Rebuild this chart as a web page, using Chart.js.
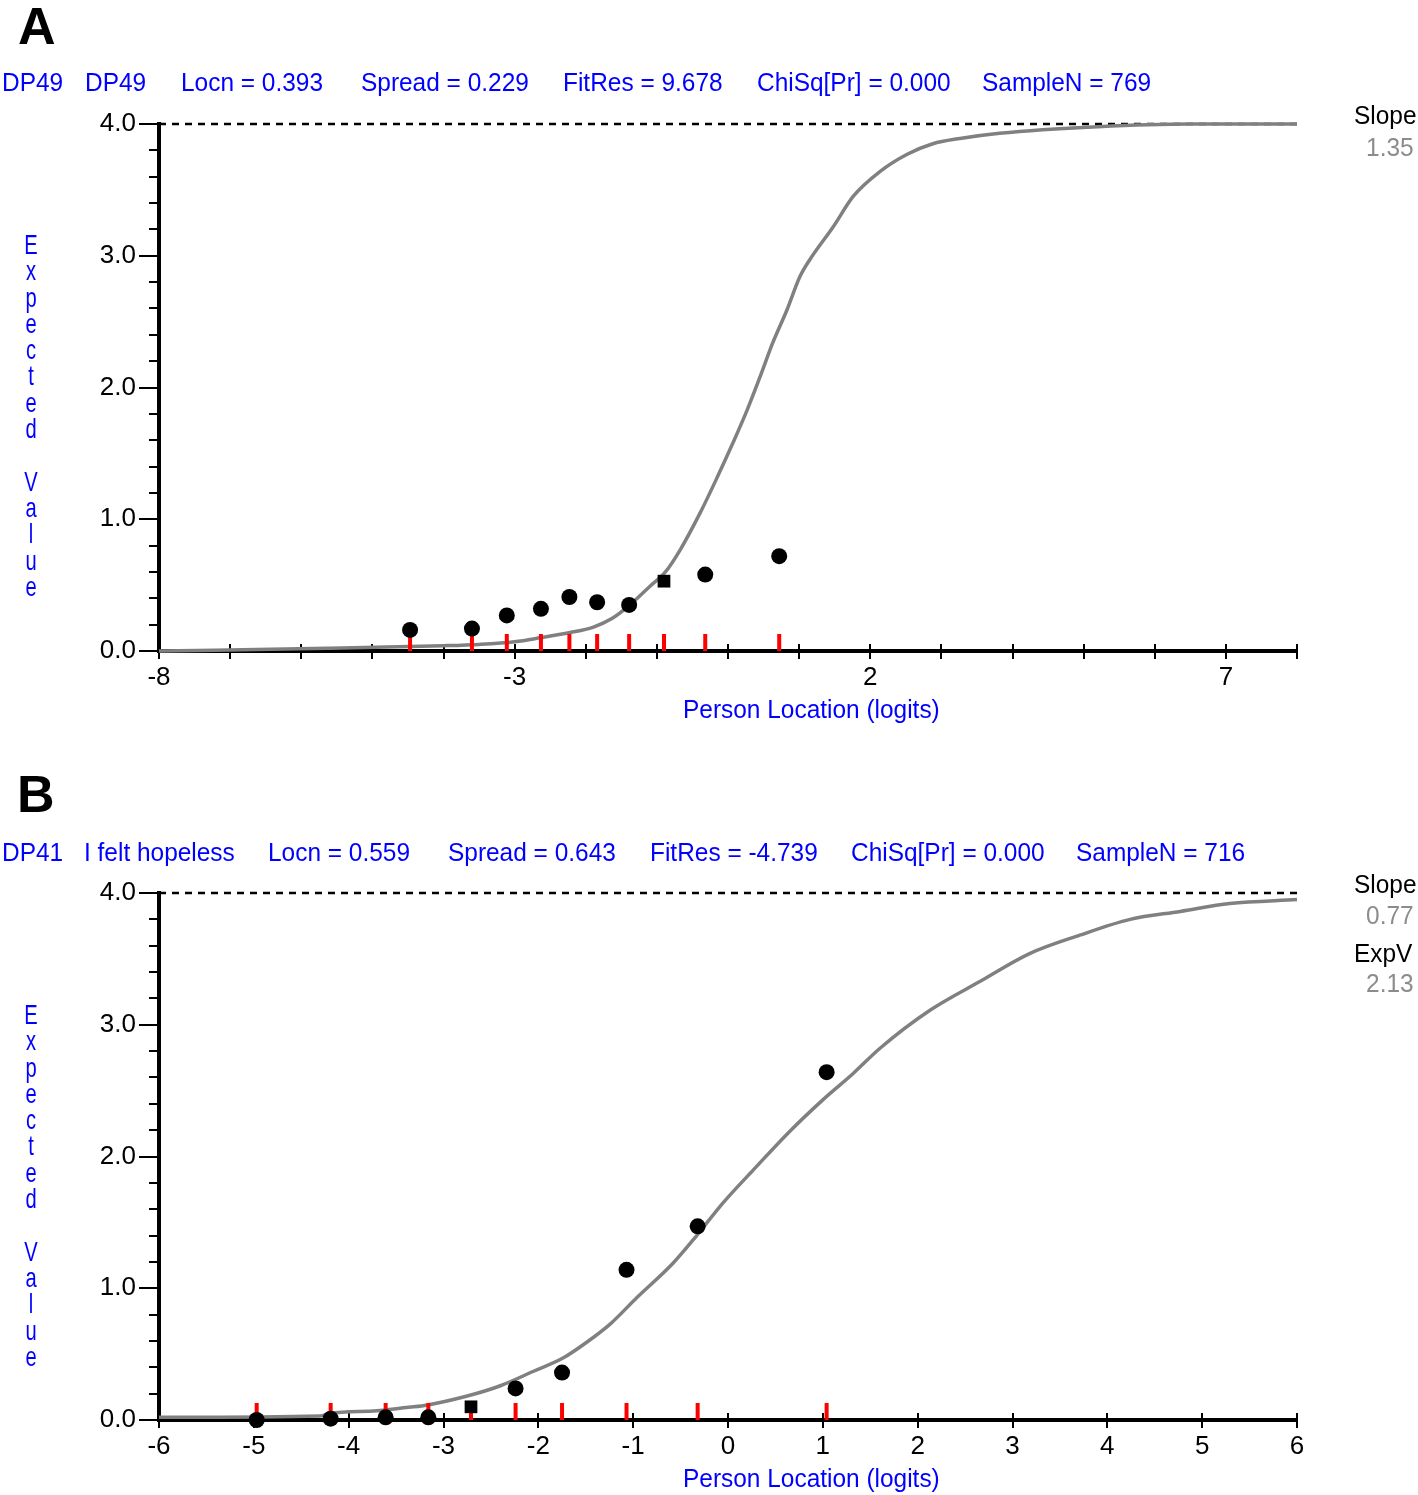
<!DOCTYPE html>
<html>
<head>
<meta charset="utf-8">
<script src="https://cdn.jsdelivr.net/npm/chart.js@4.4.1/dist/chart.umd.min.js"></script>
<style>
  body { margin: 0; background: #fff; }
  #wrap { position: relative; width: 1418px; height: 1495px; overflow: hidden; font-family: "Liberation Sans", Arial, sans-serif; }
  canvas { position: absolute; left: 0; }
  .t { position: absolute; white-space: nowrap; font-size: 26px; line-height: 26px; transform: scaleX(0.94); transform-origin: left top; z-index: 2; }
  .blue { color: #0000ff; }
  .panel { position: absolute; font-weight: bold; font-size: 52px; line-height: 52px; color: #000; z-index: 2; }
  .vert { position: absolute; width: 40px; text-align: center; color: #0000ff; font-size: 28px; line-height: 26.3px; transform: scaleX(0.72); z-index: 2; }
</style>
</head>
<body>
<div id="wrap">
  <canvas id="chartA" width="1418" height="740" style="top:0"></canvas>
  <canvas id="chartB" width="1418" height="735" style="top:760px"></canvas>
</div>
<script>
// ---- panel A : DP49 ----
const aHeader = ['DP49', 'DP49', 'Locn = 0.393', 'Spread = 0.229', 'FitRes = 9.678', 'ChiSq[Pr] = 0.000', 'SampleN = 769'];
const aSlope = '1.35';
const aTickLabels = [-8, -3, 2, 7];
// observed class means (person location, mean score)
const aClassLoc = [-4.47, -3.60, -3.11, -2.63, -2.23, -1.84, -1.39, -0.90, -0.32, 0.72];
const aClassObs = [0.16, 0.17, 0.27, 0.32, 0.41, 0.37, 0.35, 0.53, 0.58, 0.72];
const aClassStyle = ['circle','circle','circle','circle','circle','circle','circle','rect','circle','circle'];
// expected value curve
const aCurveX = [-8, -5.64, -4.0, -3.5, -3.0, -2.64, -2.22, -1.9, -1.62, -1.38, -1.1, -0.88, -0.67, -0.39, -0.15, 0.07, 0.27, 0.45, 0.63, 0.83, 1.01, 1.15, 1.48, 1.76, 2.14, 2.52, 2.88, 3.26, 3.82, 5.2, 6.5, 8];
const aCurveY = [0, 0.02, 0.04, 0.05, 0.07, 0.10, 0.14, 0.18, 0.25, 0.35, 0.49, 0.60, 0.77, 1.05, 1.32, 1.58, 1.83, 2.08, 2.34, 2.59, 2.84, 2.97, 3.22, 3.45, 3.64, 3.77, 3.85, 3.89, 3.93, 3.98, 4.0, 4.0];

// ---- panel B : DP41 ----
const bHeader = ['DP41', 'I felt hopeless', 'Locn = 0.559', 'Spread = 0.643', 'FitRes = -4.739', 'ChiSq[Pr] = 0.000', 'SampleN = 716'];
const bSlope = '0.77';
const bExpV = '2.13';
const bTickLabels = [-6, -5, -4, -3, -2, -1, 0, 1, 2, 3, 4, 5, 6];
const bClassLoc = [-4.97, -4.19, -3.61, -3.16, -2.71, -2.24, -1.75, -1.07, -0.32, 1.04];
const bClassObs = [0.00, 0.01, 0.02, 0.02, 0.10, 0.24, 0.36, 1.14, 1.47, 2.64];
const bClassStyle = ['circle','circle','circle','circle','rect','circle','circle','circle','circle','circle'];
const bCurveX = [-6, -4.3, -4.2, -3.7, -3.46, -3.2, -2.76, -2.4, -2.05, -1.74, -1.49, -1.24, -0.96, -0.58, -0.33, -0.05, 0.27, 0.65, 1.0, 1.32, 1.6, 2.13, 2.66, 3.18, 3.71, 4.24, 4.77, 5.29, 6];
const bCurveY = [0.02, 0.03, 0.05, 0.07, 0.09, 0.11, 0.18, 0.26, 0.37, 0.47, 0.59, 0.73, 0.93, 1.19, 1.40, 1.65, 1.90, 2.19, 2.43, 2.63, 2.82, 3.11, 3.33, 3.54, 3.68, 3.80, 3.86, 3.92, 3.95];

const maxScore = 4;

// minor y ticks + x ticks that cross the axis line
const axisMarks = {
  id: 'axisMarks',
  beforeDatasetsDraw(chart) {
    const {ctx, chartArea} = chart;
    const x = chart.scales.x, y = chart.scales.y;
    ctx.save();
    ctx.strokeStyle = '#000';
    ctx.lineWidth = 2;
    ctx.beginPath();
    for (let i = 0; i <= maxScore * 5; i++) {
      if (i % 5 === 0) continue;
      const py = Math.round(y.getPixelForValue(i / 5));
      ctx.moveTo(chartArea.left - 10, py);
      ctx.lineTo(chartArea.left, py);
    }
    for (let v = x.min; v <= x.max; v++) {
      const px = Math.round(x.getPixelForValue(v));
      ctx.moveTo(px, chartArea.bottom - 7);
      ctx.lineTo(px, chartArea.bottom + 8);
    }
    ctx.stroke();
    ctx.restore();
  }
};

function pts(xs, ys) { return xs.map((v, i) => ({x: v, y: ys[i]})); }

function makeChart(id, xmin, xmax, tickLabels, locs, obs, styles, cx, cy, topPad, axisH) {
  const font = {family: '"Liberation Sans", Arial, sans-serif', size: 26};
  return new Chart(document.getElementById(id), {
    type: 'scatter',
    data: {
      datasets: [
        {
          data: pts(locs, obs),
          pointStyle: styles,
          pointRadius: styles.map(s => s === 'rect' ? 9 : 8),
          backgroundColor: '#000',
          borderColor: '#000',
          borderWidth: 0,
          clip: false,
          order: 0
        },
        {
          data: locs.map(v => ({x: v, y: 0})),
          pointStyle: 'line',
          rotation: 90,
          pointRadius: 17,
          borderColor: '#ff0000',
          borderWidth: 4,
          clip: {left: 5, top: 5, right: 5, bottom: 0},
          order: 1
        },
        {
          data: pts(cx, cy),
          showLine: true,
          borderColor: '#808080',
          borderWidth: 3.5,
          pointRadius: 0,
          cubicInterpolationMode: 'monotone',
          clip: false,
          order: 2
        },
        {
          data: [{x: xmin, y: maxScore}, {x: xmax, y: maxScore}],
          showLine: true,
          borderColor: '#000',
          borderWidth: 2.5,
          borderDash: [7, 6],
          pointRadius: 0,
          clip: false,
          order: 3
        }
      ]
    },
    options: {
      responsive: false,
      devicePixelRatio: 1,
      animation: false,
      events: [],
      layout: {padding: {left: 0, right: 121, top: topPad, bottom: 0}},
      plugins: {legend: {display: false}, tooltip: {enabled: false}},
      scales: {
        x: {
          type: 'linear',
          min: xmin, max: xmax,
          afterFit: s => { s.height = axisH; },
          border: {display: true, color: '#000', width: 4},
          grid: {drawOnChartArea: false, drawTicks: false},
          ticks: {
            stepSize: 1, autoSkip: false, maxRotation: 0, padding: 11,
            color: '#000', font: font,
            callback: v => tickLabels.includes(v) ? String(v) : ''
          }
        },
        y: {
          min: 0, max: maxScore,
          afterFit: s => { s.width = 159; },
          border: {display: true, color: '#000', width: 4},
          grid: {drawOnChartArea: false, drawTicks: true, tickLength: 20, color: '#000', lineWidth: 2},
          ticks: {stepSize: 1, padding: 3, color: '#000', font: font, callback: v => v.toFixed(1)}
        }
      }
    },
    plugins: [axisMarks]
  });
}

makeChart('chartA', -8, 8, aTickLabels, aClassLoc, aClassObs, aClassStyle, aCurveX, aCurveY, 124, 89);
makeChart('chartB', -6, 6, bTickLabels, bClassLoc, bClassObs, bClassStyle, bCurveX, bCurveY, 133, 75);

// ---- text around the plots ----
const wrap = document.getElementById('wrap');
function addText(text, left, top, cls, color) {
  const d = document.createElement('div');
  d.className = cls;
  d.textContent = text;
  d.style.left = left + 'px';
  d.style.top = top + 'px';
  if (color) d.style.color = color;
  wrap.appendChild(d);
  return d;
}
function addRight(text, right, top, color) {
  const d = addText(text, 0, top, 't', color);
  d.style.left = 'auto';
  d.style.right = (1418 - right) + 'px';
  d.style.transformOrigin = 'right top';
}
function addVertical(text, top) {
  const d = document.createElement('div');
  d.className = 'vert';
  d.style.left = '11px';
  d.style.top = top + 'px';
  d.innerHTML = text.split('').map(c => c === ' ' ? '&nbsp;' : c).join('<br>');
  wrap.appendChild(d);
}

const aHeaderLeft = [2, 85, 181, 361, 563, 757, 982];
const bHeaderLeft = [2, 84, 268, 448, 650, 851, 1076];
aHeader.forEach((s, i) => addText(s, aHeaderLeft[i], 69, 't blue'));
bHeader.forEach((s, i) => addText(s, bHeaderLeft[i], 839, 't blue'));

addText('A', 18, 0, 'panel');
addText('B', 17, 768, 'panel');

addText('Slope', 1354, 102, 't', '#000');
addRight(aSlope, 1414, 134, '#8c8c8c');
addText('Slope', 1354, 871, 't', '#000');
addRight(bSlope, 1414, 902, '#8c8c8c');
addText('ExpV', 1354, 940, 't', '#000');
addRight(bExpV, 1414, 970, '#8c8c8c');

addText('Person Location (logits)', 683, 696, 't blue');
addText('Person Location (logits)', 683, 1465, 't blue');

addVertical('Expected Value', 232);
addVertical('Expected Value', 1002);
</script>
</body>
</html>
